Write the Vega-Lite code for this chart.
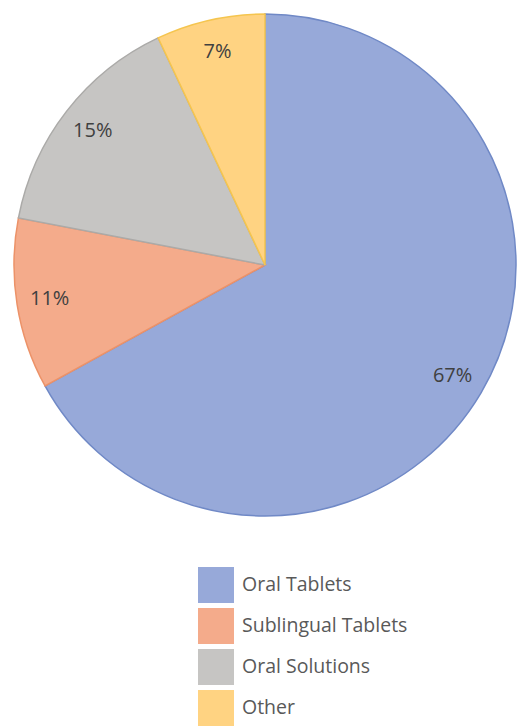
{
  "$schema": "https://vega.github.io/schema/vega-lite/v6.json",
  "width": 506,
  "height": 530,
  "padding": {"left": 11, "top": 0, "right": 0, "bottom": 0},
  "background": "white",
  "config": {"view": {"stroke": null}},
  "data": {
    "values": [
      {"category": "Oral Tablets", "share": 0.67, "rank": 1},
      {"category": "Sublingual Tablets", "share": 0.11, "rank": 2},
      {"category": "Oral Solutions", "share": 0.15, "rank": 3},
      {"category": "Other", "share": 0.07, "rank": 4}
    ]
  },
  "encoding": {
    "theta": {"field": "share", "type": "quantitative", "stack": true},
    "order": {"field": "rank", "type": "quantitative"}
  },
  "layer": [
    {
      "mark": {"type": "arc", "outerRadius": 251, "strokeWidth": 1.5, "opacity": 1},
      "encoding": {
        "color": {
          "field": "category",
          "type": "nominal",
          "scale": {
            "domain": ["Oral Tablets", "Sublingual Tablets", "Oral Solutions", "Other"],
            "range": ["#97A9D9", "#F4AB8B", "#C6C5C3", "#FFD382"]
          },
          "legend": {
            "orient": "none",
            "legendX": 186,
            "legendY": 567,
            "title": null,
            "symbolType": "square",
            "symbolSize": 1296,
            "symbolStrokeWidth": 0,
            "symbolOpacity": 1,
            "labelFontSize": 19.5,
            "labelFont": "Open Sans",
            "labelColor": "#595959",
            "labelOffset": 8,
            "labelLimit": 300,
            "rowPadding": 5,
            "padding": 0
          }
        },
        "stroke": {
          "field": "category",
          "type": "nominal",
          "scale": {
            "domain": ["Oral Tablets", "Sublingual Tablets", "Oral Solutions", "Other"],
            "range": ["#7089C6", "#EC9268", "#ABAAA8", "#F5C54F"]
          },
          "legend": null
        }
      }
    },
    {
      "mark": {"type": "text", "radius": 218, "fontSize": 20, "font": "Open Sans", "fill": "#404040"},
      "encoding": {
        "text": {"field": "share", "type": "quantitative", "format": ".0%"}
      }
    }
  ]
}
